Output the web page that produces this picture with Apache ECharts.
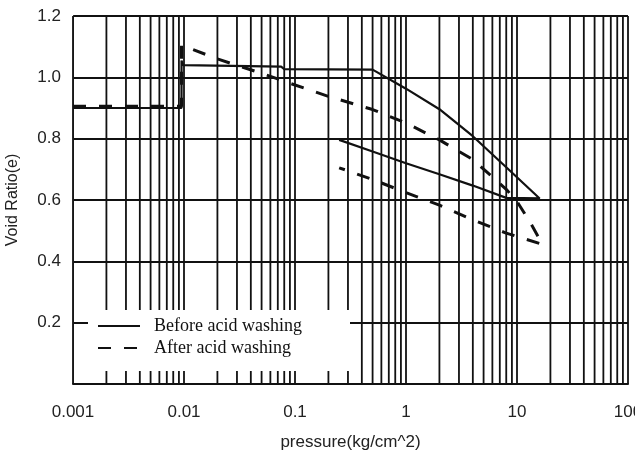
<!DOCTYPE html>
<html>
<head>
<meta charset="utf-8">
<title>Void ratio vs pressure</title>
<script src="https://cdn.jsdelivr.net/npm/echarts@6/dist/echarts.min.js"></script>
<style>
  html, body { margin: 0; padding: 0; background: #fff; }
  #chart { width: 635px; height: 450px; }
</style>
</head>
<body>
<div id="chart"></div>
<script>
// Pressure (kg/cm^2) and void ratio for each consolidation curve
const beforePressure = [0.001, 0.0095, 0.0095, 0.0098, 0.075, 0.08, 0.5, 1, 2, 4, 8, 16, 8, 4, 2, 1, 0.5, 0.25];
const beforeVoid     = [0.9, 0.9, 1.055, 1.04, 1.035, 1.027, 1.025, 0.963, 0.896, 0.808, 0.707, 0.605, 0.607, 0.647, 0.684, 0.72, 0.758, 0.796];

const afterPressure = [0.001, 0.0095, 0.0095, 0.02, 0.05, 0.1, 0.2, 0.5, 1, 2, 4, 8, 10, 13, 17, 8, 4, 2, 1, 0.5, 0.25];
const afterVoid     = [0.906, 0.906, 1.105, 1.06, 1.013, 0.975, 0.938, 0.895, 0.851, 0.796, 0.732, 0.635, 0.595, 0.53, 0.455, 0.492, 0.535, 0.583, 0.624, 0.667, 0.705];

const seriesNames = ['Before acid washing', 'After acid washing'];

// Log-axis tick labels and the decades used for the log-paper grid
const xTickValues = [0.001, 0.01, 0.1, 1, 10, 100];
const xTickLabels = ['0.001', '0.01', '0.1', '1', '10', '100'];
const gridDecades = [0.001, 0.01, 0.1, 1, 10];
const gridMultipliers = [1, 2, 3, 4, 5, 6, 7, 8, 9];
const yMin = 0, yMax = 1.2;

const toPairs = (xs, ys) => xs.map((x, i) => [x, ys[i]]);

// Vertical log-paper lines: every 1..9 step of each decade, plus the last decade edge
const verticalGrid = [];
gridDecades.forEach(d => gridMultipliers.forEach(m => verticalGrid.push(+(d * m).toPrecision(6))));
verticalGrid.push(100);

const ink = '#111';
const chart = echarts.init(document.getElementById('chart'), null, { renderer: 'canvas' });

chart.setOption({
  animation: false,
  backgroundColor: '#fff',
  grid: { left: 73, right: 7, top: 16, bottom: 66, containLabel: false, outerBoundsMode: 'none' },
  // White panel behind the legend, masking the grid lines there
  graphic: [{
    type: 'rect',
    z: 3,
    silent: true,
    shape: { x: 88, y: 310, width: 262, height: 61 },
    style: { fill: '#fff' }
  }],
  xAxis: {
    type: 'log',
    logBase: 10,
    min: 0.001,
    max: 100,
    name: 'pressure(kg/cm^2)',
    nameLocation: 'middle',
    nameGap: 50,
    nameTextStyle: { fontFamily: 'Liberation Sans', fontSize: 17, color: '#222' },
    axisLine: { show: true, onZero: false, lineStyle: { color: ink, width: 2 } },
    axisTick: { show: false },
    splitLine: { show: false },
    axisLabel: {
      margin: 20,
      fontFamily: 'Liberation Sans',
      fontSize: 17,
      color: '#222',
      hideOverlap: false,
      formatter: v => {
        const i = xTickValues.findIndex(t => Math.abs(Math.log10(t) - Math.log10(v)) < 1e-6);
        return i >= 0 ? xTickLabels[i] : '';
      }
    }
  },
  yAxis: {
    type: 'value',
    min: yMin,
    max: yMax,
    interval: 0.2,
    name: 'Void Ratio(e)',
    nameLocation: 'middle',
    nameGap: 52,
    nameTextStyle: { fontFamily: 'Liberation Sans', fontSize: 16, color: '#222' },
    axisLine: { show: true, lineStyle: { color: '#555', width: 1 } },
    axisTick: { show: false },
    axisLabel: {
      margin: 12,
      fontFamily: 'Liberation Sans',
      fontSize: 17,
      color: '#222',
      formatter: v => (v === 0 ? '' : v.toFixed(1))
    },
    splitLine: { show: true, lineStyle: { color: ink, width: 1.8 } }
  },
  legend: {
    data: seriesNames,
    orient: 'vertical',
    left: 88,
    top: 310,
    z: 5,
    padding: [7, 48, 9, 9],
    itemGap: 4,
    itemWidth: 42,
    itemHeight: 14,
    itemStyle: { color: 'transparent', borderColor: 'transparent', borderWidth: 0, opacity: 0 },
    textStyle: { fontFamily: 'Liberation Serif', fontSize: 18, lineHeight: 18, color: ink, padding: [0, 0, 0, 9] }
  },
  series: [
    {
      // log-paper vertical rules
      name: 'grid',
      type: 'custom',
      z: 1,
      silent: true,
      clip: false,
      data: verticalGrid.map(v => [v]),
      renderItem: (params, api) => {
        const v = api.value(0);
        const p0 = api.coord([v, yMin]);
        const p1 = api.coord([v, yMax]);
        return {
          type: 'line',
          shape: { x1: p0[0], y1: p0[1], x2: p1[0], y2: p1[1] },
          style: { stroke: ink, lineWidth: 1.8 }
        };
      }
    },
    {
      name: seriesNames[0],
      type: 'line',
      z: 4,
      symbol: 'none',
      lineStyle: { color: ink, width: 2.2, type: 'solid' },
      itemStyle: { color: ink },
      data: toPairs(beforePressure, beforeVoid)
    },
    {
      name: seriesNames[1],
      type: 'line',
      z: 4,
      symbol: 'none',
      lineStyle: { color: ink, width: 3, type: [13, 13] },
      itemStyle: { color: ink },
      data: toPairs(afterPressure, afterVoid)
    }
  ]
});
</script>
</body>
</html>
